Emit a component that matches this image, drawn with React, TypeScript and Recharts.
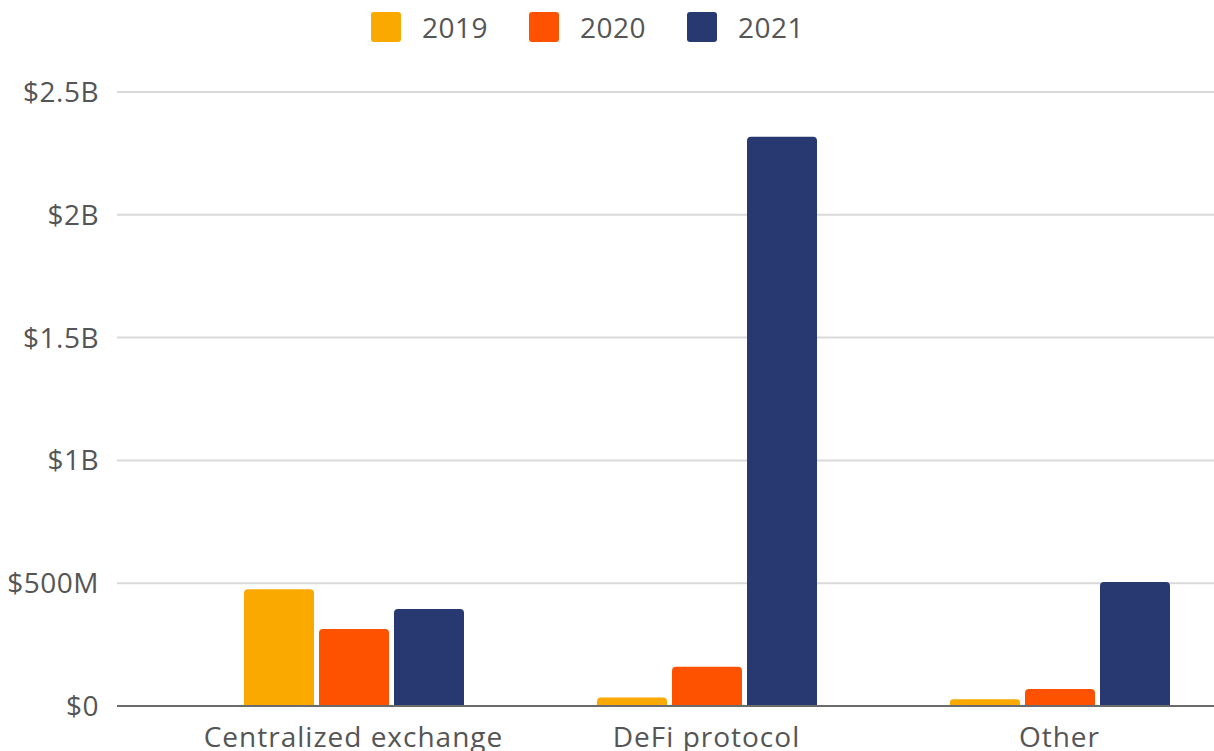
import React from "react"
import { BarChart, Bar, XAxis, YAxis, CartesianGrid, Legend } from "recharts"

const categories = ["Centralized exchange", "DeFi protocol", "Other"]
const values2019 = [475, 35, 27]
const values2020 = [314, 160, 69]
const values2021 = [395, 2318, 505]
const yTicks = [0, 500, 1000, 1500, 2000, 2500]
const seriesNames = ["2019", "2020", "2021"]
const seriesColors = ["#F9A900", "#FF5200", "#283870"]

const data = categories.map((name, i) => ({
  name,
  "2019": values2019[i],
  "2020": values2020[i],
  "2021": values2021[i],
}))

const FONT = "'Open Sans', sans-serif"
const TEXT = "#555"

function formatMoney(v: number) {
  if (v === 0) return "$0"
  if (v < 1000) return `$${v}M`
  return `$${v / 1000}B`
}

function LegendContent({ payload }: any) {
  return (
    <div style={{ display: "flex", alignItems: "center", height: 46, fontFamily: FONT }}>
      {(payload || []).map((p: any) => (
        <div key={p.value} style={{ display: "flex", alignItems: "center", marginRight: 41 }}>
          <span style={{ width: 30, height: 30, borderRadius: 3, background: p.color, marginRight: 21 }} />
          <span style={{ fontSize: 28, letterSpacing: 0.5, color: TEXT }}>{p.value}</span>
        </div>
      ))}
    </div>
  )
}

export default function App() {
  return (
    <div style={{ position: "fixed", left: 0, top: 0, width: 1214, height: 751, overflow: "hidden", background: "#fff" }}>
      <BarChart
        width={1236}
        height={790}
        data={data}
        margin={{ top: 46, right: 0, left: 0, bottom: 0 }}
        barSize={70}
        barGap={5}
      >
        <CartesianGrid vertical={false} stroke="#d9d9d9" strokeWidth={2} />
        <XAxis
          dataKey="name"
          height={84}
          padding={{ left: 60, right: 0 }}
          tickLine={false}
          tickSize={0}
          tickMargin={21}
          axisLine={{ stroke: "#6b6b6b", strokeWidth: 2 }}
          tick={{ fill: TEXT, fontSize: 28, fontFamily: FONT, letterSpacing: 1 }}
        />
        <YAxis
          width={117}
          domain={[0, 2500]}
          ticks={yTicks}
          tickFormatter={formatMoney}
          axisLine={false}
          tickLine={false}
          tickSize={0}
          tickMargin={18}
          tick={{ fill: TEXT, fontSize: 28, fontFamily: FONT, letterSpacing: 0.5 }}
        />
        <Legend
          verticalAlign="top"
          align="left"
          wrapperStyle={{ top: 4, left: 371, width: "auto" }}
          content={<LegendContent />}
        />
        {seriesNames.map((s, i) => (
          <Bar key={s} dataKey={s} fill={seriesColors[i]} radius={[4, 4, 0, 0]} isAnimationActive={false} />
        ))}
      </BarChart>
    </div>
  )
}
